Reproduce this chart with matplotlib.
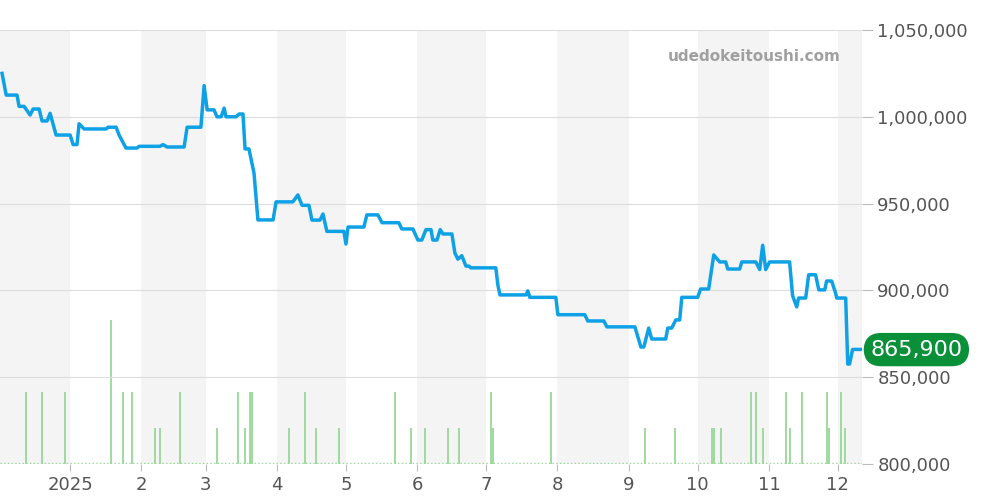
import numpy as np
import matplotlib.pyplot as plt

# price points: day since 2024-12-01, price (thousand JPY)
days = [1.4, 3.2, 7.9, 8.8, 11.0, 13.6, 14.9, 17.5, 18.8, 21.0, 22.3, 24.9, 31, 32.3, 34.0, 34.9, 37.1,
        46.7, 47.5, 51.0, 52.3, 55.3, 60.1, 61.0, 70.1, 71.4, 73.2, 80.6, 81.9, 87.9, 89.3, 90.6, 93.6,
        94.9, 96.7, 98.0, 98.8, 103.2, 104.5, 106.2, 107.1, 108.8, 111.0, 112.7, 119.3, 120.6, 127.9,
        130.1, 131.9, 134.9, 136.2, 139.7, 141.0, 142.7, 150.1, 151.0, 151.9, 158.8, 160.1, 164.9,
        166.7, 174.0, 175.3, 180.1, 182.3, 184.0, 185.8, 188.0, 188.8, 190.6, 192.0, 193.2, 197.1,
        198.4, 199.7, 201.4, 203.2, 204.5, 205.3, 216.2, 217.1, 218.0, 229.3, 230.1, 231.0, 242.3,
        243.2, 254.9, 256.2, 263.2, 264.5, 276.7, 279.3, 280.6, 282.7, 284.0, 290.1, 291.0, 292.7,
        294.5, 296.2, 297.1, 304.0, 305.3, 308.8, 311.0, 313.6, 316.2, 317.1, 322.3, 323.2, 329.3,
        331.0, 332.3, 333.6, 335.3, 344.0, 345.3, 347.1, 347.9, 351.0, 352.3, 355.3, 356.7, 359.3,
        360.1, 362.3, 364.0, 364.5, 368.4, 369.3, 370.1, 371.4, 375.3]
prices = [1025, 1012.5, 1012.5, 1006, 1006, 1001, 1004.5, 1004.5, 997.6, 997.6, 1002, 989.5, 989.5,
          984, 984, 996, 993, 993, 994, 994, 989.5, 982, 982, 983, 983, 984, 982.6, 982.6, 994, 994,
          1018, 1004, 1004, 1000, 1000, 1005, 1000, 1000, 1001.6, 1001.6, 981.5, 981.5, 967.6, 940.6,
          940.6, 951, 951, 955, 949, 949, 940.5, 940.5, 944, 934, 934, 926.7, 936.5, 936.5, 943.5,
          943.5, 939, 939, 935.4, 935.4, 929, 929, 935, 935, 929, 929, 935, 932.5, 932.5, 921.5, 918,
          920, 914, 914, 913, 913, 903, 897.4, 897.4, 899.7, 896, 896, 886, 886, 882.4, 882.4, 879,
          879, 867.4, 867.4, 878.3, 872, 872, 878.3, 878.3, 883, 883, 896, 896, 900.8, 900.8, 920.4,
          916.4, 916.4, 912.3, 912.3, 916.4, 916.4, 912, 926, 912, 916.4, 916.4, 897, 890.5, 895.6,
          895.6, 909, 909, 900.3, 900.3, 905.4, 905.4, 898.5, 895.6, 895.6, 857.6, 857.6, 866, 866]

vol_days = [11.9, 18.8, 28.8, 48.8, 54.0, 57.9, 67.9, 70.1, 78.8, 94.9, 104.0, 107.1, 109.3, 110.1,
            126.2, 133.2, 137.9, 147.9, 172.3, 179.3, 185.3, 195.3, 200.1, 214.0, 214.9, 240.1,
            281.0, 294.0, 310.1, 311.0, 314.0, 327.1, 329.3, 332.3, 342.3, 344.0, 349.3, 360.1,
            361.0, 366.2, 367.9]
vol = [2, 2, 2, 4, 2, 2, 1, 1, 2, 1, 2, 1, 2, 2, 1, 2, 1, 1, 2, 1, 1, 1, 1, 2, 1, 2,
       1, 1, 1, 1, 1, 2, 2, 1, 2, 1, 2, 2, 1, 2, 1]

month_days = [0, 31, 62, 90, 121, 151, 182, 212, 243, 274, 304, 335, 365]
month_labels = ['2025', '2', '3', '4', '5', '6', '7', '8', '9', '10', '11', '12']
last_price = 865900

fig = plt.figure(figsize=(10, 5), dpi=100)
ax = fig.add_axes([0.0, 0.072, 0.862, 0.868])
ax2 = ax.twinx()

for i in range(0, len(month_days), 2):
    ax2.axvspan(month_days[i], month_days[i + 1] if i + 1 < len(month_days) else 400,
                color='#f4f4f4', lw=0, zorder=0)

ax2.vlines(vol_days, 0, vol, color='#98d898', lw=1.3, zorder=2)
ax2.axhline(0.03, color='#98d898', lw=1, ls=':', zorder=2)
ax2.set_ylim(0, 12.06)
ax2.axis('off')

ax.plot(days, np.array(prices) * 1000, color='#0ea1e6', lw=2.5, zorder=3)
ax.set_zorder(ax2.get_zorder() + 1)
ax.patch.set_visible(False)

ax.set_xlim(0.5, 375.5)
ax.set_ylim(800000, 1050000)
ax.set_xticks(month_days[1:])
ax.set_xticklabels(month_labels)
ax.yaxis.tick_right()
ax.set_yticks(np.arange(800000, 1050001, 50000))
ax.yaxis.set_major_formatter(plt.FuncFormatter(lambda v, p: f'{int(v):,}'))
ax.grid(axis='y', color='#dddddd', lw=0.8)
ax.tick_params(axis='y', length=8, color='#bbbbbb', labelsize=13, labelcolor='#555555', pad=3)
ax.tick_params(axis='x', length=5, color='#bbbbbb', labelsize=13, labelcolor='#555555')
for s in ['top', 'left', 'bottom', 'right']:
    ax.spines[s].set_visible(False)

ax.text(0.975, 0.94, 'udedokeitoushi.com', transform=ax.transAxes, ha='right', va='center',
        color='#a0a0a0', fontsize=11, fontweight='bold')
ax.annotate(f'{last_price:,}', xy=(1.0, last_price), xycoords=('axes fraction', 'data'),
            xytext=(6, 0), textcoords='offset points', ha='left', va='center',
            color='white', fontsize=16,
            bbox=dict(boxstyle='round,pad=0.3,rounding_size=0.8', fc='#0a9038', ec='none'))

fig.savefig('out.png')
